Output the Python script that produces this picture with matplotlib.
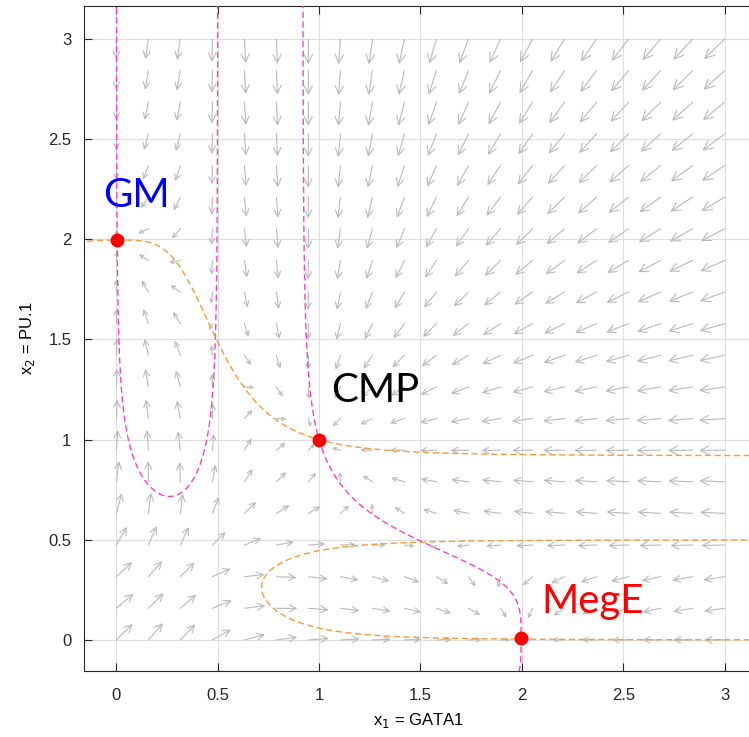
import numpy as np
import matplotlib
matplotlib.use('Agg')
import matplotlib.pyplot as plt
from matplotlib.patches import FancyArrowPatch

# toggle switch model: dx/dt = x^n/(th^n+x^n) + th^n/(th^n+y^n) - x
a_self = 1.0
b_cross = 1.0
k_decay = 1.0
theta = 0.5
n_hill = 4

# arrow grid
grid_x = np.linspace(0, 3, 20)
grid_y = np.linspace(0, 3, 20)

# steady states and their labels
fp_x = [0.004, 1.0, 1.996]
fp_y = [1.996, 1.0, 0.008]
state_names = ['GM', 'CMP', 'MegE']
state_colors = ['#0000ff', '#000000', '#ff0000']
label_x = [-0.066, 1.058, 2.097]
label_y = [2.163, 1.19, 0.136]

ticks = [0, 0.5, 1, 1.5, 2, 2.5, 3]
tick_labels = ['0', '0.5', '1', '1.5', '2', '2.5', '3']


def rate(x, y):
    act = a_self * x**n_hill / (theta**n_hill + x**n_hill)
    inh = b_cross * theta**n_hill / (theta**n_hill + y**n_hill)
    return act + inh - k_decay * x


plt.rcParams['font.family'] = ['Liberation Sans', 'DejaVu Sans']

fig = plt.figure(figsize=(7.49, 7.37), dpi=100)
ax = fig.add_axes([0.1121, 0.0896, 0.8932, 0.9023])
ax.set_xlim(-0.16, 3.14)
ax.set_ylim(-0.155, 3.165)

# vector field, length ~ speed^(1/3)
X, Y = np.meshgrid(grid_x, grid_y)
U = rate(X, Y)
V = rate(Y, X)
S = np.hypot(U, V)
L = 0.101 * S**(1 / 3)
dx = U / S * L
dy = V / S * L
for x0, y0, ux, vy, ln in zip(X.ravel(), Y.ravel(), dx.ravel(), dy.ravel(), L.ravel()):
    ln_pt = ln * 203 * 0.72
    arr = FancyArrowPatch((x0, y0), (x0 + ux, y0 + vy),
                          arrowstyle='->,head_length=0.4,head_width=0.2',
                          mutation_scale=0.33 * ln_pt / 0.4,
                          shrinkA=0, shrinkB=0, color='#bababa', lw=0.8, zorder=2)
    ax.add_patch(arr)

# nullclines
xs = np.linspace(-0.16, 3.16, 1661)
ys = np.linspace(-0.16, 3.18, 1671)
XX, YY = np.meshgrid(xs, ys)
ax.contour(XX, YY, rate(XX, YY), levels=[0], colors='#ff3fc8',
           linewidths=1.0, linestyles=[(0, (4.5, 2.5))], zorder=3)
ax.contour(XX, YY, rate(YY, XX), levels=[0], colors='#fa9a3c',
           linewidths=1.0, linestyles=[(0, (4.5, 2.5))], zorder=3)

ax.plot(fp_x, fp_y, 'o', color='#ff0000', ms=9, zorder=4)

for name, c, tx, ty in zip(state_names, state_colors, label_x, label_y):
    ax.text(tx, ty, name, color=c, fontsize=29, family='Lato',
            ha='left', va='baseline', zorder=5)

ax.set_xticks(ticks)
ax.set_xticklabels(tick_labels)
ax.set_yticks(ticks)
ax.set_yticklabels(tick_labels)
ax.grid(True, color='#dedede', lw=0.8, zorder=0)
ax.set_axisbelow(True)
ax.tick_params(direction='in', length=5.5, width=0.8, labelsize=12,
               top=True, right=False, colors='#262626', pad=12)
ax.tick_params(axis='y', pad=9)
for sp in ax.spines.values():
    sp.set_color('#262626')
    sp.set_linewidth(0.8)
ax.spines['right'].set_visible(False)

ax.set_xlabel('x$_1$ = GATA1', fontsize=12, labelpad=6)
ax.set_ylabel('x$_2$ = PU.1', fontsize=12, labelpad=8)

fig.savefig('out.png', dpi=100)
